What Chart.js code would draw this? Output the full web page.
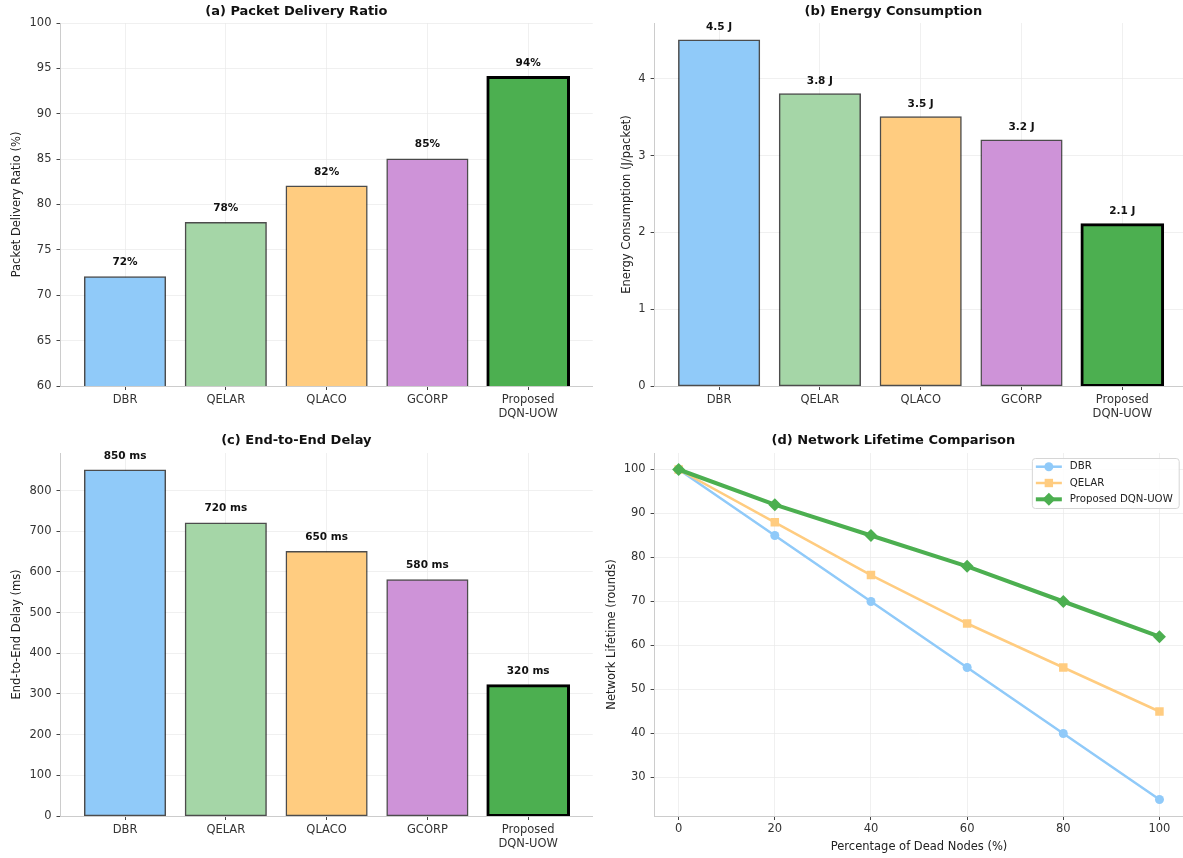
<!DOCTYPE html>
<html>
<head>
<meta charset="utf-8">
<title>Routing protocol comparison</title>
<script src="https://cdn.jsdelivr.net/npm/chart.js@4.4.1/dist/chart.umd.min.js"></script>
<style>
  html, body { margin: 0; padding: 0; background: #fff; width: 1183px; height: 858px; overflow: hidden; }
  canvas { position: absolute; }
</style>
</head>
<body>
<canvas id="chart-pdr" width="600" height="430" style="left:0;top:0"></canvas>
<canvas id="chart-energy" width="590" height="430" style="left:600px;top:0"></canvas>
<canvas id="chart-delay" width="600" height="428" style="left:0;top:430px"></canvas>
<canvas id="chart-lifetime" width="590" height="428" style="left:600px;top:430px"></canvas>
<script>
const protocols = ["DBR", "QELAR", "QLACO", "GCORP", ["Proposed", "DQN-UOW"]];
const barColors = ["#90CAF9", "#A5D6A7", "#FFCC80", "#CE93D8", "#4CAF50"];

const pdrValues = [72, 78, 82, 85, 94];
const energyValues = [4.5, 3.8, 3.5, 3.2, 2.1];
const delayValues = [850, 720, 650, 580, 320];

const pdrTicks = [60, 65, 70, 75, 80, 85, 90, 95, 100];
const energyTicks = [0, 1, 2, 3, 4];
const delayTicks = [0, 100, 200, 300, 400, 500, 600, 700, 800];

const deadNodes = [0, 20, 40, 60, 80, 100];
const dbrLifetime = [100, 85, 70, 55, 40, 25];
const qelarLifetime = [100, 88, 76, 65, 55, 45];
const dqnLifetime = [100, 92, 85, 78, 70, 62];
const lifetimeTicks = [30, 40, 50, 60, 70, 80, 90, 100];

Chart.defaults.font.family = "'DejaVu Sans', sans-serif";
Chart.defaults.color = "#333";

const GRID = "rgba(232,232,232,0.65)";
const SPINE = "#cccccc";
const TICK = "#444";

// value text above each bar
const valueLabels = {
  id: "valueLabels",
  afterDraw(chart, args, opts) {
    const { ctx } = chart;
    const meta = chart.getDatasetMeta(0);
    const values = chart.data.datasets[0].data;
    ctx.save();
    ctx.font = "bold 10.5px 'DejaVu Sans', sans-serif";
    ctx.fillStyle = "#111";
    ctx.textAlign = "center";
    ctx.textBaseline = "middle";
    meta.data.forEach((bar, i) => {
      ctx.fillText(opts.format(values[i].y), bar.x, bar.y - opts.offset);
    });
    ctx.restore();
  },
};

function titleOpts(text, top) {
  return {
    display: true,
    text,
    color: "#111",
    font: { size: 13, weight: "bold" },
    padding: { top, bottom: 7.4 - top },
  };
}

function yAxis(label, min, max, ticks, width, titlePad, z) {
  return {
    type: "linear",
    min,
    max,
    z,
    afterBuildTicks: (s) => { s.ticks = ticks.map((v) => ({ value: v })); },
    afterFit: (s) => { s.width = width; },
    ticks: { font: { size: 11.5 }, color: "#333", padding: 5 },
    grid: { color: GRID, tickColor: TICK, tickLength: 4 },
    border: { color: SPINE, width: 1 },
    title: { display: true, text: label, color: "#222", font: { size: 11.5 }, padding: { top: titlePad, bottom: 0 } },
  };
}

function barChart(id, title, titleTop, yLabel, values, ticks, yMax, yMin, axisW, titlePad, padRight, xHeight, fmt, offset) {
  return new Chart(document.getElementById(id), {
    type: "bar",
    data: {
      datasets: [{
        data: values.map((v, i) => ({ x: i, y: v })),
        backgroundColor: barColors,
        borderColor: values.map((_, i) => (i === 4 ? "#000" : "rgba(0,0,0,0.7)")),
        borderWidth: values.map((_, i) => (i === 4 ? 3 : 1.5)),
        inflateAmount: values.map((_, i) => (i === 4 ? 1.5 : 0.75)),
        borderSkipped: false,
        barPercentage: 0.8,
        categoryPercentage: 1,
      }],
    },
    options: {
      responsive: false,
      animation: false,
      layout: { padding: { right: padRight } },
      plugins: {
        legend: { display: false },
        tooltip: { enabled: false },
        title: titleOpts(title, titleTop),
        valueLabels: { format: fmt, offset },
      },
      scales: {
        x: {
          type: "linear",
          min: -0.64,
          max: 4.64,
          offset: false,
          z: 1,
          afterBuildTicks: (s) => { s.ticks = protocols.map((_, i) => ({ value: i })); },
          afterFit: (s) => { s.height = xHeight; },
          ticks: {
            callback: (v) => protocols[v],
            font: { size: 11.5 },
            color: "#333",
            padding: 3,
            maxRotation: 0,
            autoSkip: false,
          },
          grid: { offset: false, color: GRID, tickColor: TICK, tickLength: 4 },
          border: { color: SPINE, width: 1 },
        },
        y: yAxis(yLabel, yMin, yMax, ticks, axisW, titlePad, 1),
      },
    },
    plugins: [valueLabels],
  });
}

barChart("chart-pdr", "(a) Packet Delivery Ratio", 4, "Packet Delivery Ratio (%)",
  pdrValues, pdrTicks, 100, 60, 60.5, 10.4, 7.3, 44, (v) => `${v}%`, 14.5);

barChart("chart-energy", "(b) Energy Consumption", 4, "Energy Consumption (J/packet)",
  energyValues, energyTicks, 4.725, 0, 54.6, 20.4, 3.2, 44, (v) => `${v.toFixed(1)} J`, 13);

barChart("chart-delay", "(c) End-to-End Delay", 3, "End-to-End Delay (ms)",
  delayValues, delayTicks, 892.5, 0, 60.5, 10.4, 7.3, 42, (v) => `${v} ms`, 14.5);

// ---- (d) network lifetime ----
const lifetimeSeries = [
  { label: "DBR", values: dbrLifetime, color: "#90CAF9", width: 2.5, marker: "circle", radius: 4.5 },
  { label: "QELAR", values: qelarLifetime, color: "#FFCC80", width: 2.5, marker: "rect", radius: 6 },
  { label: "Proposed DQN-UOW", values: dqnLifetime, color: "#4CAF50", width: 4, marker: "rectRot", radius: 6.5 },
];

function drawMarker(ctx, kind, x, y) {
  ctx.beginPath();
  if (kind === "circle") {
    ctx.arc(x, y, 4.5, 0, Math.PI * 2);
  } else if (kind === "rect") {
    ctx.rect(x - 4.2, y - 4.2, 8.4, 8.4);
  } else {
    ctx.moveTo(x, y - 6.5);
    ctx.lineTo(x + 6.5, y);
    ctx.lineTo(x, y + 6.5);
    ctx.lineTo(x - 6.5, y);
    ctx.closePath();
  }
  ctx.fill();
}

const lifetimeLegend = {
  id: "lifetimeLegend",
  afterDraw(chart) {
    const { ctx, chartArea: a } = chart;
    ctx.save();
    ctx.font = "10.2px 'DejaVu Sans', sans-serif";
    const textW = Math.max(...lifetimeSeries.map((s) => ctx.measureText(s.label).width));
    const w = 4 + 26 + 8 + textW + 6;
    const h = 50;
    const right = a.right - 4.8;
    const top = a.top + 5;
    const left = right - w;
    ctx.beginPath();
    ctx.roundRect(left + 0.5, top + 0.5, w, h, 3);
    ctx.fillStyle = "rgba(255,255,255,0.85)";
    ctx.fill();
    ctx.strokeStyle = "#d6d6d6";
    ctx.lineWidth = 1;
    ctx.stroke();
    lifetimeSeries.forEach((s, i) => {
      const y = top + 8.7 + i * 16.3;
      ctx.strokeStyle = s.color;
      ctx.lineWidth = s.width;
      ctx.beginPath();
      ctx.moveTo(left + 4, y);
      ctx.lineTo(left + 30, y);
      ctx.stroke();
      ctx.fillStyle = s.color;
      drawMarker(ctx, s.marker, left + 17, y);
      ctx.fillStyle = "#222";
      ctx.textBaseline = "middle";
      ctx.fillText(s.label, left + 38, y);
    });
    ctx.restore();
  },
};

new Chart(document.getElementById("chart-lifetime"), {
  type: "line",
  data: {
    datasets: lifetimeSeries.map((s, k) => ({
      label: s.label,
      data: deadNodes.map((x, i) => ({ x, y: s.values[i] })),
      borderColor: s.color,
      backgroundColor: s.color,
      borderWidth: s.width,
      pointStyle: s.marker,
      pointRadius: s.radius,
      pointBorderWidth: 0,
      tension: 0,
      order: lifetimeSeries.length - 1 - k,
    })),
  },
  options: {
    responsive: false,
    animation: false,
    layout: { padding: { right: 3.2 } },
    plugins: {
      legend: { display: false },
      tooltip: { enabled: false },
      title: titleOpts("(d) Network Lifetime Comparison", 3),
    },
    scales: {
      x: {
        type: "linear",
        min: -5,
        max: 105,
        afterBuildTicks: (s) => { s.ticks = deadNodes.map((v) => ({ value: v })); },
        afterFit: (s) => { s.height = 42; },
        ticks: { font: { size: 11.5 }, color: "#333", padding: 2, maxRotation: 0 },
        grid: { color: GRID, tickColor: TICK, tickLength: 4 },
        border: { color: SPINE, width: 1 },
        title: {
          display: true,
          text: "Percentage of Dead Nodes (%)",
          color: "#222",
          font: { size: 11.5 },
          padding: { top: 0, bottom: 4.4 },
        },
      },
      y: yAxis("Network Lifetime (rounds)", 21.25, 103.75, lifetimeTicks, 54.6, 5.4, 0),
    },
  },
  plugins: [lifetimeLegend],
});
</script>
</body>
</html>
